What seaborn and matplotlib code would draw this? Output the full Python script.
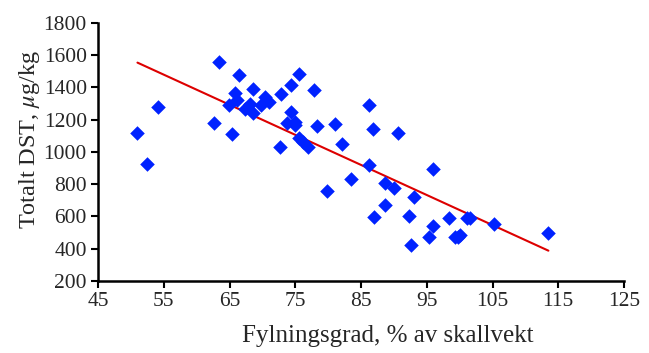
import numpy as np
import pandas as pd
import seaborn as sns
import matplotlib.pyplot as plt

# fyllingsgrad (% av skallvekt) og totalt DST (ug/kg), lest av figuren
fylning = [51.0, 52.5, 54.2, 63.4, 62.7, 65.4, 66.5, 65.8, 66.2, 64.9,
           67.3, 68.6, 68.1, 68.6, 69.8, 70.4, 71.0, 72.7, 72.9, 74.4,
           75.5, 77.9, 74.4, 73.7, 75.0, 75.0, 78.3, 81.0, 75.5, 76.2,
           76.9, 82.1, 86.2, 86.9, 90.6, 86.2, 96.0, 79.9, 83.5, 88.7,
           90.0, 93.1, 88.7, 87.0, 92.3, 95.9, 98.4, 101.1, 101.6, 95.4,
           92.6, 99.3, 100.1, 99.7, 105.3, 113.4]
dst = [1120, 924, 1281, 1560, 1180, 1112, 1476, 1368, 1322, 1292,
       1265, 1389, 1297, 1244, 1292, 1343, 1308, 1029, 1360, 1417,
       1486, 1382, 1250, 1182, 1188, 1167, 1161, 1172, 1085, 1064,
       1033, 1052, 1292, 1145, 1120, 917, 897, 758, 833, 806,
       775, 723, 671, 595, 603, 543, 593, 593, 593, 475,
       423, 475, 485, 470, 551, 500]

# trendlinje (lest av figuren)
trend_x = [51.0, 113.5]
trend_y = [1554, 388]

df = pd.DataFrame({'fylning': fylning, 'dst': dst})
trend = pd.DataFrame({'x': trend_x, 'y': trend_y})

sns.set_style("ticks")
plt.rcParams['font.family'] = ['Liberation Serif', 'DejaVu Serif']
plt.rcParams['mathtext.fontset'] = 'stix'

fig = plt.figure(figsize=(6.49, 3.53), dpi=100)
ax = fig.add_axes([0.151, 0.204, 0.8105, 0.731])

sns.scatterplot(data=df, x='fylning', y='dst', marker='D', s=55,
                color='#0022FF', edgecolor='#0022FF', linewidth=0, ax=ax, zorder=3)
sns.lineplot(data=trend, x='x', y='y', color='#DD0000', linewidth=1.5, ax=ax, zorder=2)

ax.set_xlim(45, 125)
ax.set_ylim(200, 1800)
ax.set_xticks(np.arange(45, 126, 10))
ax.set_yticks(np.arange(200, 1801, 200))
ax.tick_params(axis='both', labelsize=15.5, width=1.5, length=5, color='black', pad=3)
for side in ['left', 'bottom']:
    ax.spines[side].set_linewidth(1.8)
    ax.spines[side].set_color('black')
sns.despine(ax=ax)

ax.set_xlabel("Fylningsgrad, % av skallvekt", fontsize=18)
ax.set_ylabel("Totalt DST, $\\mu$g/kg", fontsize=17.5)
# etikettene sitter litt utenfor midten i originalen
ax.xaxis.set_label_coords(0.55, -0.17)
ax.yaxis.set_label_coords(-0.107, 0.55)

fig.savefig("out.png", dpi=100)
